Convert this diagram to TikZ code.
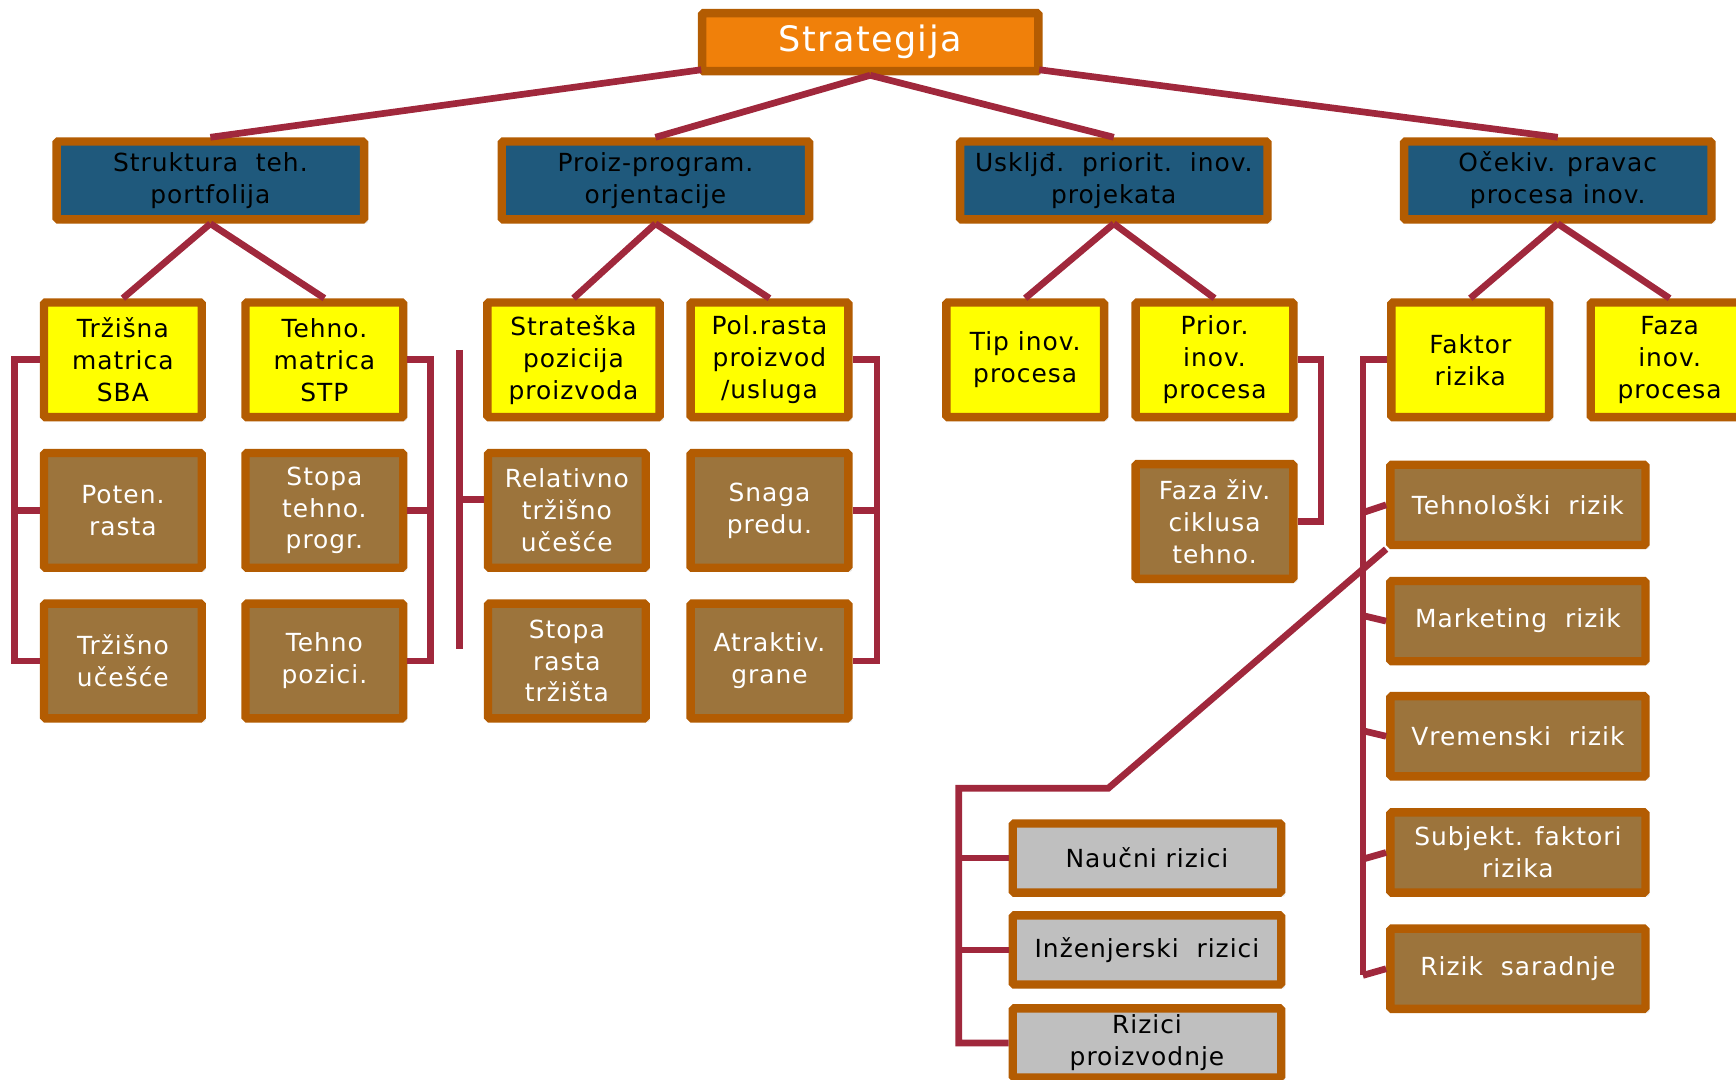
\documentclass[tikz,border=0pt]{standalone}
\usepackage{fontspec}
\setmainfont[LetterSpace=4]{DejaVu Sans}
\usepackage{tikz}
\usetikzlibrary{calc, shadows}
\definecolor{rim}{RGB}{179,92,2}
\definecolor{orangefill}{RGB}{240,128,10}
\definecolor{bluefill}{RGB}{31,89,124}
\definecolor{yellowfill}{RGB}{255,255,0}
\definecolor{brownfill}{RGB}{156,116,60}
\definecolor{grayfill}{RGB}{191,191,191}
\definecolor{linkred}{RGB}{160,40,60}
\tikzset{every node/.append style={font=\fontsize{16}{20.5}\selectfont}}

\begin{document}
\begin{tikzpicture}[x=0.025cm, y=-0.025cm,
    box/.style={draw=rim, line width=5.4pt, rounded corners=1pt, align=center, inner sep=0pt,
        drop shadow={opacity=0.18, shadow xshift=2.5pt, shadow yshift=-2.5pt}},
    head/.style={box, fill=orangefill, text=white, minimum width=7.59cm, minimum height=1.31cm, font=\fontsize{22.5}{28}\selectfont},
    area/.style={box, fill=bluefill, minimum width=6.94cm, minimum height=1.76cm},
    topic/.style={box, fill=yellowfill, minimum width=3.56cm, minimum height=2.59cm},
    factor/.style={box, fill=brownfill, text=white, minimum width=3.56cm, minimum height=2.59cm},
    risk/.style={box, fill=brownfill, text=white, minimum width=5.76cm, minimum height=1.81cm},
    subrisk/.style={box, fill=grayfill, minimum width=6.06cm, minimum height=1.56cm},
    link/.style={draw=linkred, line width=4.3pt}]
    \useasboundingbox (0,0) rectangle (1568,975);
    % top and second level
    \node[head] (strat) at (786,38) {Strategija};
    \node[area] (s1) at (190,163) {Struktura\ \ teh.\\portfolija};
    \node[area] (s2) at (592,163) {Proiz-program.\\orjentacije};
    \node[area] (s3) at (1006,163) {Uskljđ.\ \ priorit.\ \ inov.\\projekata};
    \node[area] (s4) at (1407,163) {Očekiv. pravac\\procesa inov.};
    % yellow row
    \node[topic] (y11) at (111,325) {Tržišna\\matrica\\SBA};
    \node[topic] (y12) at (293,325) {Tehno.\\matrica\\STP};
    \node[topic, minimum width=3.89cm] (y21) at (518,325) {Strateška\\pozicija\\proizvoda};
    \node[topic] (y22) at (695,325) {Pol.rasta\\proizvod\\/usluga};
    \node[topic] (y31) at (926,325) {Tip inov.\\procesa};
    \node[topic] (y32) at (1097,325) {Prior.\\inov.\\procesa};
    \node[topic] (y41) at (1328,325) {Faktor\\rizika};
    \node[topic] (y42) at (1508,325) {Faza\\inov.\\procesa};
    % brown boxes
    \node[factor] (b11) at (111,461) {Poten.\\rasta};
    \node[factor] (b12) at (293,461) {Stopa\\tehno.\\progr.};
    \node[factor] (b21) at (512,461) {Relativno\\tržišno\\učešće};
    \node[factor] (b22) at (695,461) {Snaga\\predu.};
    \node[factor] (c11) at (111,597) {Tržišno\\učešće};
    \node[factor] (c12) at (293,597) {Tehno\\pozici.};
    \node[factor] (c21) at (512,597) {Stopa\\rasta\\tržišta};
    \node[factor] (c22) at (695,597) {Atraktiv.\\grane};
    \node[factor] (fz) at (1097,471) {Faza živ.\\ciklusa\\tehno.};
    % risk column
    \node[risk] (r1) at (1371,456) {Tehnološki\ \ rizik};
    \node[risk] (r2) at (1371,561) {Marketing\ \ rizik};
    \node[risk] (r3) at (1371,665) {Vremenski\ \ rizik};
    \node[risk] (r4) at (1371,770) {Subjekt. faktori\\rizika};
    \node[risk] (r5) at (1371,875) {Rizik\ \ saradnje};
    \node[subrisk] (g1) at (1036,775) {Naučni rizici};
    \node[subrisk] (g2) at (1036,858) {Inženjerski\ \ rizici};
    \node[subrisk] (g3) at (1036,942) {Rizici\\proizvodnje};

    % tree lines
    \draw[link] ($(strat.south west)+(3,-5)$) -- (s1.north);
    \draw[link] (strat.south) -- (s2.north);
    \draw[link] (strat.south) -- (s3.north);
    \draw[link] ($(strat.south east)+(-3,-5)$) -- (s4.north);
    \foreach \a/\b/\c in {s1/y11/y12, s2/y21/y22, s3/y31/y32, s4/y41/y42} {
        \draw[link] (\a.south) -- (\b.north);
        \draw[link] (\a.south) -- (\c.north);
    }
    % brackets
    \draw[link] (y11.west) -- ++(-23,0) |- (c11.west);
    \draw[link] (b11.west) -- ++(-23,0);
    \draw[link] (y12.east) -- ++(21,0) |- (c12.east);
    \draw[link] (b12.east) -- ++(21,0);
    \coordinate (rt) at (415,316);
    \coordinate (rb) at (415,586);
    \draw[link] (rt) -- (rb);
    \draw[link] ($(b21.west)+(0,-10)$) -- ($(b21.west -| rt)+(0,-10)$);
    \draw[link] (y22.east) -- ++(22,0) |- (c22.east);
    \draw[link] (b22.east) -- ++(22,0);
    \draw[link] (y32.east) -- ++(21,0) |- (fz.east);
    % risk factors
    \draw[link] (y41.west) -- ++(-22,0) coordinate (fk) -- ($(fk |- r5.west)+(0,6)$);
    \foreach \r/\d in {r1/7, r2/-5, r3/-5, r4/6, r5/6}
        \draw[link] (\r.west) -- ($(fk |- \r.west)+(0,\d)$);
    \coordinate (bend) at (1001,712);
    \coordinate (gk) at (866,712);
    \draw[link] (r1.south west) -- (bend) -- (gk) |- (g3.west);
    \draw[link] (g1.west) -- (g1.west -| gk);
    \draw[link] (g2.west) -- (g2.west -| gk);
\end{tikzpicture}
\end{document}
